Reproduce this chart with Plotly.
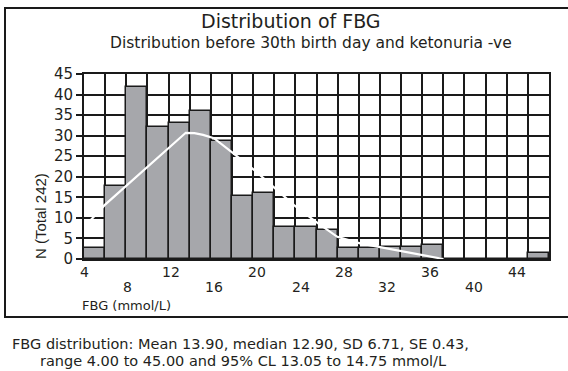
import plotly.graph_objects as go

# ---- data ----
bin_start = 4.0
bin_width = 41.0 / 21.0          # range 4.00 to 45.00 split in 21 bins
counts = [2.6, 17.8, 41.9, 32.2, 33.0, 36.0, 28.6, 15.4, 16.1, 7.9, 7.9,
          7.0, 2.7, 2.7, 2.8, 2.8, 3.5, 0, 0, 0, 0, 1.5]
curve_x = [4.0, 5.9, 13.4, 14.2, 15.0, 16.0, 17.8, 19.7, 21.6, 23.4, 25.4,
           27.4, 29.5, 32.6, 35.1, 37.2]
curve_y = [7.7, 13.1, 30.7, 30.6, 30.2, 29.4, 25.7, 21.7, 17.3, 13.1, 9.1,
           5.4, 3.8, 2.2, 1.0, 0.0]
xticks_row1 = [4, 12, 20, 28, 36, 44]
xticks_row2 = [8, 16, 24, 32, 40]
yticks = [0, 5, 10, 15, 20, 25, 30, 35, 40, 45]

title = "Distribution of FBG"
subtitle = "Distribution before 30th birth day and ketonuria -ve"
ylabel = "N (Total 242)"
xlabel = "FBG (mmol/L)"
footer1 = "FBG distribution: Mean 13.90, median 12.90, SD 6.71, SE 0.43,"
footer2 = "range 4.00 to 45.00 and 95% CL 13.05 to 14.75 mmol/L"

# ---- layout geometry (pixels) ----
W, H = 568, 371
L, R, T, B = 84, 19, 74, 112
pw, ph = W - L - R, H - T - B


def px_x(p):
    return (p - L) / pw


def px_y(p):
    return (H - B - p) / ph


FONT = "DejaVu Sans, sans-serif"
FONT2 = "Liberation Sans, Arial, sans-serif"
TXT = "#231f20"

nb = len(counts)
centers = [bin_start + (i + 0.5) * bin_width for i in range(nb)]
x_end = bin_start + nb * bin_width

fig = go.Figure()
fig.add_trace(go.Bar(
    x=centers, y=counts, width=bin_width,
    marker=dict(color="#a6a7ab", line=dict(color="#1a1a1a", width=1.5)),
    hoverinfo="skip",
))
fig.add_trace(go.Scatter(
    x=curve_x, y=curve_y, mode="lines",
    line=dict(color="white", width=2.2), hoverinfo="skip",
))

ann = []
for v in xticks_row1:
    ann.append(dict(x=v, y=px_y(272), xref="x", yref="paper", text=str(v),
                    showarrow=False, xanchor="center", yanchor="middle",
                    font=dict(family=FONT, size=14, color=TXT)))
for v in xticks_row2:
    ann.append(dict(x=v, y=px_y(287), xref="x", yref="paper", text=str(v),
                    showarrow=False, xanchor="center", yanchor="middle",
                    font=dict(family=FONT, size=14, color=TXT)))
ann += [
    dict(x=px_x(291), y=px_y(21), xref="paper", yref="paper", text=title,
         showarrow=False, xanchor="center", yanchor="middle",
         font=dict(family=FONT, size=19, color=TXT)),
    dict(x=px_x(311), y=px_y(43), xref="paper", yref="paper", text=subtitle,
         showarrow=False, xanchor="center", yanchor="middle",
         font=dict(family=FONT, size=15.5, color=TXT)),
    dict(x=px_x(40), y=px_y(216), xref="paper", yref="paper", text=ylabel,
         showarrow=False, xanchor="center", yanchor="middle", textangle=-90,
         font=dict(family=FONT2, size=15, color=TXT)),
    dict(x=px_x(80), y=px_y(305), xref="paper", yref="paper", text=xlabel,
         showarrow=False, xanchor="left", yanchor="middle",
         font=dict(family=FONT, size=13, color=TXT)),
    dict(x=px_x(10), y=px_y(344), xref="paper", yref="paper", text=footer1,
         showarrow=False, xanchor="left", yanchor="middle",
         font=dict(family=FONT, size=14.5, color=TXT)),
    dict(x=px_x(38), y=px_y(361), xref="paper", yref="paper", text=footer2,
         showarrow=False, xanchor="left", yanchor="middle",
         font=dict(family=FONT, size=14.5, color=TXT)),
]

fig.update_layout(
    width=W, height=H,
    margin=dict(l=L, r=R, t=T, b=B, pad=0),
    paper_bgcolor="white", plot_bgcolor="white",
    showlegend=False, bargap=0,
    annotations=ann,
    shapes=[dict(type="rect", xref="paper", yref="paper",
                 x0=px_x(5), x1=px_x(575), y0=px_y(317), y1=px_y(8),
                 line=dict(color="#1a1a1a", width=2), layer="below")],
    xaxis=dict(range=[bin_start, x_end], tickmode="linear", tick0=bin_start,
               dtick=bin_width, showticklabels=False, ticks="",
               showgrid=True, gridcolor="#1a1a1a", gridwidth=1.8,
               zeroline=False, showline=True, mirror=True,
               linecolor="#1a1a1a", linewidth=2),
    yaxis=dict(range=[0, 45], tickvals=yticks, ticks="outside", ticklen=6,
               tickwidth=1.5, tickcolor="#1a1a1a",
               tickfont=dict(family=FONT, size=15, color=TXT),
               showgrid=True, gridcolor="#1a1a1a", gridwidth=1.8,
               zeroline=False, showline=True, mirror=True,
               linecolor="#1a1a1a", linewidth=2),
)

fig.write_html("out.html")
